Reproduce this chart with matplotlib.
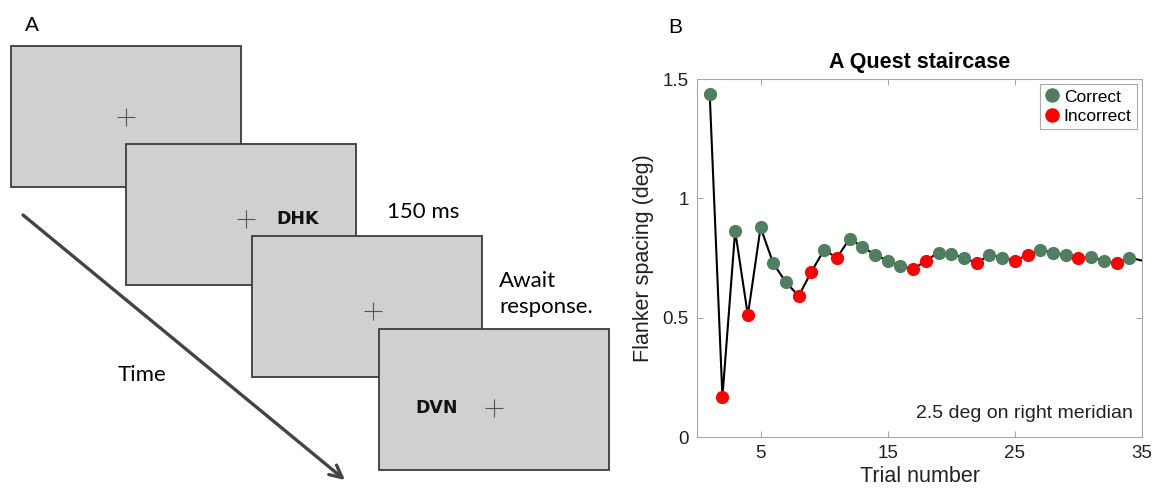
import matplotlib
matplotlib.use('Agg')
import matplotlib.pyplot as plt
import numpy as np
from matplotlib.patches import Rectangle

# staircase data
trials = list(range(1, 36))
spacing = [1.436, 0.168, 0.864, 0.510, 0.878, 0.727, 0.648, 0.591, 0.693, 0.784,
           0.751, 0.830, 0.798, 0.763, 0.739, 0.718, 0.703, 0.739, 0.773, 0.765,
           0.752, 0.728, 0.763, 0.752, 0.739, 0.763, 0.784, 0.773, 0.763, 0.751,
           0.753, 0.739, 0.728, 0.752, 0.739]
# 1 = correct, 0 = incorrect (trials 1..34, last value is the final estimate)
response = [1, 0, 1, 0, 1, 1, 1, 0, 0, 1, 0, 1, 1, 1, 1, 1, 0, 0, 1, 1,
            1, 0, 1, 1, 0, 0, 1, 1, 1, 0, 1, 1, 0, 1]
x_ticks = [5, 15, 25, 35]
y_ticks = [0, 0.5, 1, 1.5]
y_ticklabels = ['0', '0.5', '1', '1.5']

GREEN = '#4f7e61'
RED = '#ff0000'
SCREEN = '#d0cfd1'
EDGE = '#3c3c3c'
W, H = 1154, 491

fig = plt.figure(figsize=(W / 100, H / 100), dpi=100)

# ---- panel A: drawn in pixel coordinates on a figure wide axes
axA = fig.add_axes([0, 0, 1, 1])
axA.set_xlim(0, W)
axA.set_ylim(H, 0)
axA.axis('off')

screens = [(11, 46), (126, 144), (252, 236), (379, 329)]
sw, sh = 230, 141
for i, (x0, y0) in enumerate(screens):
    axA.add_patch(Rectangle((x0, y0), sw, sh, facecolor=SCREEN, edgecolor=EDGE,
                            lw=1.3, zorder=2 + i))

crosses = [(126, 117, 2), (246, 219, 3), (373, 311, 4), (494, 408, 5)]
for cx, cy, z in crosses:
    axA.plot(cx, cy, marker='+', ms=13, mew=0.8, color='#555555', zorder=z + 0.5)

axA.text(298, 219, 'DHK', fontsize=12.5, fontweight='bold', family='DejaVu Sans',
         ha='center', va='center', color='#111111', zorder=3.5)
axA.text(437, 408, 'DVN', fontsize=12.5, fontweight='bold', family='DejaVu Sans',
         ha='center', va='center', color='#111111', zorder=5.5)

tfont = ['Lato', 'DejaVu Sans']
axA.text(423, 212, '150 ms', fontsize=16, family=tfont, ha='center', va='center')
axA.text(499, 294, 'Await\nresponse.', fontsize=16, family=tfont, ha='left',
         va='center', linespacing=1.35)
axA.text(142, 375, 'Time', fontsize=16, family=tfont, ha='center', va='center')

axA.annotate('', xy=(345, 480), xytext=(23, 215),
             arrowprops=dict(arrowstyle='->', color='#444444', lw=2.4,
                             mutation_scale=22, shrinkA=0, shrinkB=0))

axA.text(32, 25, 'A', fontsize=15, family='Liberation Sans', ha='center', va='center')
axA.text(675, 27, 'B', fontsize=15, family='Liberation Sans', ha='center', va='center')

# ---- panel B: Quest staircase
axB = fig.add_axes([697 / W, 1 - 437 / H, 445 / W, 358 / H])
axB.plot(trials, spacing, color='black', lw=1.5, zorder=2)
n = len(response)
tr = np.array(trials[:n])
sp = np.array(spacing[:n])
rs = np.array(response)
axB.plot(tr[rs == 1], sp[rs == 1], 'o', color=GREEN, ms=9.5, mec='none',
         label='Correct', zorder=3)
axB.plot(tr[rs == 0], sp[rs == 0], 'o', color=RED, ms=9.5, mec='none',
         label='Incorrect', zorder=3)

axB.set_xlim(0, 35)
axB.set_ylim(0, 1.5)
axB.set_xticks(x_ticks)
axB.set_yticks(y_ticks)
axB.set_yticklabels(y_ticklabels)
axB.tick_params(direction='in', top=True, right=True, length=4, width=0.6,
                color='#999999', labelsize=13.5, labelcolor='#222222', pad=6)
for s in axB.spines.values():
    s.set_color('#a8a8a8')
    s.set_linewidth(0.8)

fam = ['Liberation Sans', 'DejaVu Sans']
for lab in axB.get_xticklabels() + axB.get_yticklabels():
    lab.set_family(fam)
axB.set_xlabel('Trial number', fontsize=15.5, family=fam, color='#222222', labelpad=3)
axB.set_ylabel('Flanker spacing (deg)', fontsize=15.5, family=fam, color='#222222',
               labelpad=6)
axB.set_title('A Quest staircase', fontsize=15.5, fontweight='bold', family=fam, pad=8)
axB.text(0.98, 0.067, '2.5 deg on right meridian', transform=axB.transAxes,
         ha='right', va='center', fontsize=14, family=fam, color='#222222')

leg = axB.legend(loc='upper right', prop={'family': fam, 'size': 12.5},
                 handlelength=0.8, handletextpad=0.3, borderpad=0.3,
                 labelspacing=0.25, fancybox=False, framealpha=1,
                 borderaxespad=0.3, markerscale=1.1)
leg.get_frame().set_edgecolor('#aaaaaa')
leg.get_frame().set_linewidth(0.8)

fig.savefig('out.png', dpi=100)
